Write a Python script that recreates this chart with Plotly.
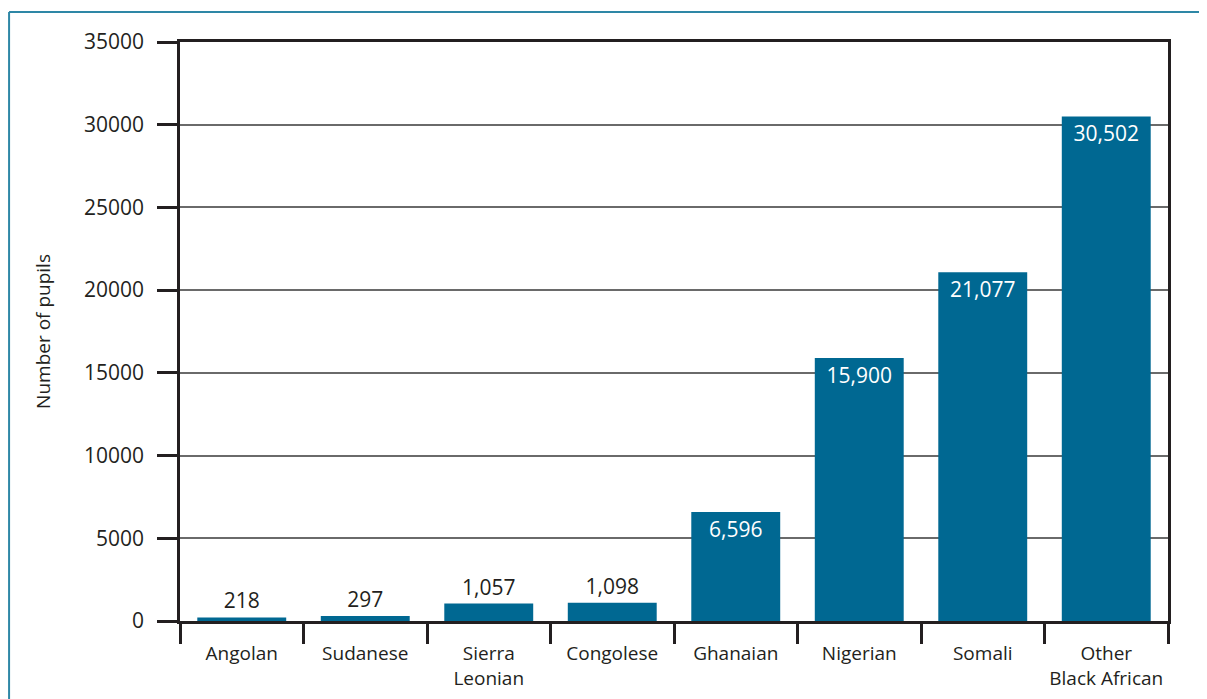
import plotly.graph_objects as go

categories = ["Angolan", "Sudanese", "Sierra<br>Leonian", "Congolese", "Ghanaian",
              "Nigerian", "Somali", "Other<br>Black African"]
pupils = [218, 297, 1057, 1098, 6596, 15900, 21077, 30502]
y_ticks = [0, 5000, 10000, 15000, 20000, 25000, 30000, 35000]

BAR = "#006892"
DARK = "#231f20"
FONT = "Open Sans"

positions = ["outside" if v < 3000 else "inside" for v in pupils]

fig = go.Figure(go.Bar(
    x=categories, y=pupils,
    marker=dict(color=BAR, line=dict(width=0)),
    width=0.72,
    texttemplate="%{y:,}",
    textposition=positions,
    insidetextanchor="end",
    insidetextfont=dict(family=FONT, size=21, color="white"),
    outsidetextfont=dict(family=FONT, size=21, color=DARK),
    constraintext="none",
    cliponaxis=False,
))

fig.update_layout(
    width=1207, height=699,
    margin=dict(l=172, r=47, t=34, b=86),
    paper_bgcolor="white", plot_bgcolor="white",
    font=dict(family=FONT, color=DARK),
    showlegend=False,
    bargap=0.28,
    shapes=[
        dict(type="line", xref="paper", yref="paper", x0=-0.173, x1=1.1, y0=1.0518, y1=1.0518,
             line=dict(color="#2e87a6", width=2)),
        dict(type="line", xref="paper", yref="paper", x0=-0.173, x1=-0.173, y0=1.0518, y1=-0.2,
             line=dict(color="#2e87a6", width=2)),
    ],
)

fig.update_yaxes(
    range=[0, 35000], tickvals=y_ticks, tickformat="d",
    showgrid=True, gridcolor="#6a6a6a", gridwidth=1.5,
    showline=True, linecolor=DARK, linewidth=2.5, mirror=True,
    ticks="outside", ticklen=20, tickwidth=2.5, tickcolor=DARK,
    ticklabelstandoff=9, automargin=False,
    tickfont=dict(family=FONT, size=21, color=DARK),
    zeroline=False,
    title=dict(text="Number of pupils", font=dict(family=FONT, size=19, color=DARK), standoff=29),
)
fig.update_xaxes(
    showline=True, linecolor=DARK, linewidth=3, mirror=True,
    ticks="outside", ticklen=20, tickwidth=2.5, tickcolor=DARK,
    tickson="boundaries", tickangle=0, automargin=False,
    tickfont=dict(family=FONT, size=19, color=DARK),
    ticklabelstandoff=13,
)

fig.write_html("out.html")
